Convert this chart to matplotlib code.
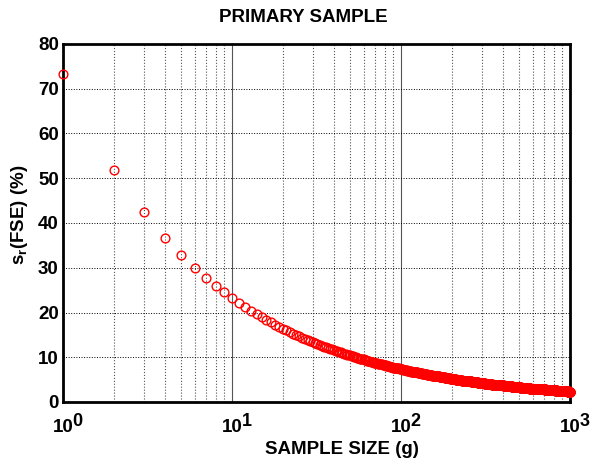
import numpy as np
import matplotlib
matplotlib.use("Agg")
import matplotlib.pyplot as plt
import matplotlib.transforms as mtransforms
from matplotlib.ticker import FixedLocator, LogLocator, NullFormatter

plt.rcParams['font.family'] = ['Liberation Sans', 'DejaVu Sans']
plt.rcParams['mathtext.fontset'] = 'custom'
plt.rcParams['mathtext.rm'] = 'Liberation Sans:bold'
plt.rcParams['mathtext.bf'] = 'Liberation Sans:bold'
plt.rcParams['mathtext.it'] = 'Liberation Sans:bold'

title = "PRIMARY SAMPLE"
x_label = "SAMPLE SIZE (g)"
y_label = r"$\mathbf{s_r}$(FSE) (%)"

# sample sizes (g): 1 .. 1000
sample_size_g = np.arange(1, 1001)

# relative standard deviation of the fundamental sampling error (%), one value per sample size
fse_pct = [
    73.4, 51.9, 42.4, 36.7, 32.8, 30.0, 27.7, 26.0, 24.5, 23.2,
    22.1, 21.2, 20.4, 19.6, 19.0, 18.4, 17.8, 17.3, 16.8, 16.4,
    16.0, 15.6, 15.3, 15.0, 14.7, 14.4, 14.1, 13.9, 13.6, 13.4,
    13.2, 13.0, 12.8, 12.6, 12.4, 12.2, 12.1, 11.9, 11.8, 11.6,
    11.5, 11.3, 11.2, 11.1, 10.9, 10.8, 10.7, 10.6, 10.5, 10.4,
    10.3, 10.2, 10.1, 10.0, 9.9, 9.8, 9.7, 9.6, 9.6, 9.5,
    9.4, 9.3, 9.2, 9.2, 9.1, 9.0, 9.0, 8.9, 8.8, 8.8,
    8.7, 8.7, 8.6, 8.5, 8.5, 8.4, 8.4, 8.3, 8.3, 8.2,
    8.2, 8.1, 8.1, 8.0, 8.0, 7.9, 7.9, 7.8, 7.8, 7.7,
    7.7, 7.7, 7.6, 7.6, 7.5, 7.5, 7.5, 7.4, 7.4, 7.3,
    7.3, 7.3, 7.2, 7.2, 7.2, 7.1, 7.1, 7.1, 7.0, 7.0,
    7.0, 6.9, 6.9, 6.9, 6.8, 6.8, 6.8, 6.8, 6.7, 6.7,
    6.7, 6.6, 6.6, 6.6, 6.6, 6.5, 6.5, 6.5, 6.5, 6.4,
    6.4, 6.4, 6.4, 6.3, 6.3, 6.3, 6.3, 6.2, 6.2, 6.2,
    6.2, 6.2, 6.1, 6.1, 6.1, 6.1, 6.1, 6.0, 6.0, 6.0,
    6.0, 6.0, 5.9, 5.9, 5.9, 5.9, 5.9, 5.8, 5.8, 5.8,
    5.8, 5.8, 5.7, 5.7, 5.7, 5.7, 5.7, 5.7, 5.6, 5.6,
    5.6, 5.6, 5.6, 5.6, 5.5, 5.5, 5.5, 5.5, 5.5, 5.5,
    5.5, 5.4, 5.4, 5.4, 5.4, 5.4, 5.4, 5.4, 5.3, 5.3,
    5.3, 5.3, 5.3, 5.3, 5.3, 5.2, 5.2, 5.2, 5.2, 5.2,
    5.2, 5.2, 5.2, 5.1, 5.1, 5.1, 5.1, 5.1, 5.1, 5.1,
    5.1, 5.0, 5.0, 5.0, 5.0, 5.0, 5.0, 5.0, 5.0, 4.9,
    4.9, 4.9, 4.9, 4.9, 4.9, 4.9, 4.9, 4.9, 4.9, 4.8,
    4.8, 4.8, 4.8, 4.8, 4.8, 4.8, 4.8, 4.8, 4.7, 4.7,
    4.7, 4.7, 4.7, 4.7, 4.7, 4.7, 4.7, 4.7, 4.7, 4.6,
    4.6, 4.6, 4.6, 4.6, 4.6, 4.6, 4.6, 4.6, 4.6, 4.6,
    4.5, 4.5, 4.5, 4.5, 4.5, 4.5, 4.5, 4.5, 4.5, 4.5,
    4.5, 4.5, 4.4, 4.4, 4.4, 4.4, 4.4, 4.4, 4.4, 4.4,
    4.4, 4.4, 4.4, 4.4, 4.3, 4.3, 4.3, 4.3, 4.3, 4.3,
    4.3, 4.3, 4.3, 4.3, 4.3, 4.3, 4.3, 4.3, 4.2, 4.2,
    4.2, 4.2, 4.2, 4.2, 4.2, 4.2, 4.2, 4.2, 4.2, 4.2,
    4.2, 4.2, 4.1, 4.1, 4.1, 4.1, 4.1, 4.1, 4.1, 4.1,
    4.1, 4.1, 4.1, 4.1, 4.1, 4.1, 4.1, 4.1, 4.0, 4.0,
    4.0, 4.0, 4.0, 4.0, 4.0, 4.0, 4.0, 4.0, 4.0, 4.0,
    4.0, 4.0, 4.0, 4.0, 4.0, 3.9, 3.9, 3.9, 3.9, 3.9,
    3.9, 3.9, 3.9, 3.9, 3.9, 3.9, 3.9, 3.9, 3.9, 3.9,
    3.9, 3.9, 3.9, 3.8, 3.8, 3.8, 3.8, 3.8, 3.8, 3.8,
    3.8, 3.8, 3.8, 3.8, 3.8, 3.8, 3.8, 3.8, 3.8, 3.8,
    3.8, 3.8, 3.8, 3.7, 3.7, 3.7, 3.7, 3.7, 3.7, 3.7,
    3.7, 3.7, 3.7, 3.7, 3.7, 3.7, 3.7, 3.7, 3.7, 3.7,
    3.7, 3.7, 3.7, 3.7, 3.6, 3.6, 3.6, 3.6, 3.6, 3.6,
    3.6, 3.6, 3.6, 3.6, 3.6, 3.6, 3.6, 3.6, 3.6, 3.6,
    3.6, 3.6, 3.6, 3.6, 3.6, 3.6, 3.6, 3.5, 3.5, 3.5,
    3.5, 3.5, 3.5, 3.5, 3.5, 3.5, 3.5, 3.5, 3.5, 3.5,
    3.5, 3.5, 3.5, 3.5, 3.5, 3.5, 3.5, 3.5, 3.5, 3.5,
    3.5, 3.5, 3.4, 3.4, 3.4, 3.4, 3.4, 3.4, 3.4, 3.4,
    3.4, 3.4, 3.4, 3.4, 3.4, 3.4, 3.4, 3.4, 3.4, 3.4,
    3.4, 3.4, 3.4, 3.4, 3.4, 3.4, 3.4, 3.4, 3.4, 3.4,
    3.3, 3.3, 3.3, 3.3, 3.3, 3.3, 3.3, 3.3, 3.3, 3.3,
    3.3, 3.3, 3.3, 3.3, 3.3, 3.3, 3.3, 3.3, 3.3, 3.3,
    3.3, 3.3, 3.3, 3.3, 3.3, 3.3, 3.3, 3.3, 3.3, 3.3,
    3.2, 3.2, 3.2, 3.2, 3.2, 3.2, 3.2, 3.2, 3.2, 3.2,
    3.2, 3.2, 3.2, 3.2, 3.2, 3.2, 3.2, 3.2, 3.2, 3.2,
    3.2, 3.2, 3.2, 3.2, 3.2, 3.2, 3.2, 3.2, 3.2, 3.2,
    3.2, 3.2, 3.1, 3.1, 3.1, 3.1, 3.1, 3.1, 3.1, 3.1,
    3.1, 3.1, 3.1, 3.1, 3.1, 3.1, 3.1, 3.1, 3.1, 3.1,
    3.1, 3.1, 3.1, 3.1, 3.1, 3.1, 3.1, 3.1, 3.1, 3.1,
    3.1, 3.1, 3.1, 3.1, 3.1, 3.1, 3.1, 3.1, 3.1, 3.0,
    3.0, 3.0, 3.0, 3.0, 3.0, 3.0, 3.0, 3.0, 3.0, 3.0,
    3.0, 3.0, 3.0, 3.0, 3.0, 3.0, 3.0, 3.0, 3.0, 3.0,
    3.0, 3.0, 3.0, 3.0, 3.0, 3.0, 3.0, 3.0, 3.0, 3.0,
    3.0, 3.0, 3.0, 3.0, 3.0, 3.0, 3.0, 3.0, 3.0, 2.9,
    2.9, 2.9, 2.9, 2.9, 2.9, 2.9, 2.9, 2.9, 2.9, 2.9,
    2.9, 2.9, 2.9, 2.9, 2.9, 2.9, 2.9, 2.9, 2.9, 2.9,
    2.9, 2.9, 2.9, 2.9, 2.9, 2.9, 2.9, 2.9, 2.9, 2.9,
    2.9, 2.9, 2.9, 2.9, 2.9, 2.9, 2.9, 2.9, 2.9, 2.9,
    2.9, 2.9, 2.9, 2.8, 2.8, 2.8, 2.8, 2.8, 2.8, 2.8,
    2.8, 2.8, 2.8, 2.8, 2.8, 2.8, 2.8, 2.8, 2.8, 2.8,
    2.8, 2.8, 2.8, 2.8, 2.8, 2.8, 2.8, 2.8, 2.8, 2.8,
    2.8, 2.8, 2.8, 2.8, 2.8, 2.8, 2.8, 2.8, 2.8, 2.8,
    2.8, 2.8, 2.8, 2.8, 2.8, 2.8, 2.8, 2.8, 2.8, 2.8,
    2.8, 2.8, 2.7, 2.7, 2.7, 2.7, 2.7, 2.7, 2.7, 2.7,
    2.7, 2.7, 2.7, 2.7, 2.7, 2.7, 2.7, 2.7, 2.7, 2.7,
    2.7, 2.7, 2.7, 2.7, 2.7, 2.7, 2.7, 2.7, 2.7, 2.7,
    2.7, 2.7, 2.7, 2.7, 2.7, 2.7, 2.7, 2.7, 2.7, 2.7,
    2.7, 2.7, 2.7, 2.7, 2.7, 2.7, 2.7, 2.7, 2.7, 2.7,
    2.7, 2.7, 2.7, 2.7, 2.7, 2.7, 2.7, 2.6, 2.6, 2.6,
    2.6, 2.6, 2.6, 2.6, 2.6, 2.6, 2.6, 2.6, 2.6, 2.6,
    2.6, 2.6, 2.6, 2.6, 2.6, 2.6, 2.6, 2.6, 2.6, 2.6,
    2.6, 2.6, 2.6, 2.6, 2.6, 2.6, 2.6, 2.6, 2.6, 2.6,
    2.6, 2.6, 2.6, 2.6, 2.6, 2.6, 2.6, 2.6, 2.6, 2.6,
    2.6, 2.6, 2.6, 2.6, 2.6, 2.6, 2.6, 2.6, 2.6, 2.6,
    2.6, 2.6, 2.6, 2.6, 2.6, 2.6, 2.6, 2.6, 2.5, 2.5,
    2.5, 2.5, 2.5, 2.5, 2.5, 2.5, 2.5, 2.5, 2.5, 2.5,
    2.5, 2.5, 2.5, 2.5, 2.5, 2.5, 2.5, 2.5, 2.5, 2.5,
    2.5, 2.5, 2.5, 2.5, 2.5, 2.5, 2.5, 2.5, 2.5, 2.5,
    2.5, 2.5, 2.5, 2.5, 2.5, 2.5, 2.5, 2.5, 2.5, 2.5,
    2.5, 2.5, 2.5, 2.5, 2.5, 2.5, 2.5, 2.5, 2.5, 2.5,
    2.5, 2.5, 2.5, 2.5, 2.5, 2.5, 2.5, 2.5, 2.5, 2.5,
    2.5, 2.5, 2.5, 2.5, 2.5, 2.5, 2.5, 2.4, 2.4, 2.4,
    2.4, 2.4, 2.4, 2.4, 2.4, 2.4, 2.4, 2.4, 2.4, 2.4,
    2.4, 2.4, 2.4, 2.4, 2.4, 2.4, 2.4, 2.4, 2.4, 2.4,
    2.4, 2.4, 2.4, 2.4, 2.4, 2.4, 2.4, 2.4, 2.4, 2.4,
    2.4, 2.4, 2.4, 2.4, 2.4, 2.4, 2.4, 2.4, 2.4, 2.4,
    2.4, 2.4, 2.4, 2.4, 2.4, 2.4, 2.4, 2.4, 2.4, 2.4,
    2.4, 2.4, 2.4, 2.4, 2.4, 2.4, 2.4, 2.4, 2.4, 2.4,
    2.4, 2.4, 2.4, 2.4, 2.4, 2.4, 2.4, 2.4, 2.4, 2.4,
    2.4, 2.4, 2.4, 2.4, 2.4, 2.3, 2.3, 2.3, 2.3, 2.3,
    2.3, 2.3, 2.3, 2.3, 2.3, 2.3, 2.3, 2.3, 2.3, 2.3,
    2.3, 2.3, 2.3, 2.3, 2.3, 2.3, 2.3, 2.3, 2.3, 2.3,
]

y_ticks = [0, 10, 20, 30, 40, 50, 60, 70, 80]
x_ticks = [1, 10, 100, 1000]
x_tick_base = "10"
x_tick_exponents = ["0", "1", "2", "3"]

assert len(fse_pct) == len(sample_size_g), len(fse_pct)

W, H = 594, 467
fig = plt.figure(figsize=(W / 100, H / 100), dpi=100)
ax = fig.add_axes([63 / W, 1 - 402 / H, (570 - 63) / W, (402 - 44) / H])

ax.plot(sample_size_g, fse_pct, linestyle='none', marker='o', markersize=6.3,
        markerfacecolor='none', markeredgecolor='red', markeredgewidth=1.0,
        clip_on=False, zorder=5)

ax.set_xscale('log')
ax.set_xlim(1, 1000)
ax.set_ylim(0, 80)
ax.set_yticks(y_ticks)
ax.set_yticklabels([str(t) for t in y_ticks], fontsize=13.5, fontweight='bold')
# y tick labels sit slightly below their grid lines in the reference
shift = mtransforms.ScaledTranslation(0, -5 / 100, fig.dpi_scale_trans)
for lab in ax.get_yticklabels():
    lab.set_transform(lab.get_transform() + shift)

ax.xaxis.set_major_locator(FixedLocator(x_ticks))
ax.xaxis.set_major_formatter(NullFormatter())
ax.xaxis.set_minor_locator(LogLocator(base=10, subs=np.arange(2, 10)))
ax.xaxis.set_minor_formatter(NullFormatter())

# x tick labels: "10" with a large raised exponent
for xt, ex in zip(x_ticks, x_tick_exponents):
    ax.annotate(x_tick_base, xy=(xt, 0), xycoords=('data', 'axes fraction'),
                xytext=(7.4, -21.4), textcoords='offset points',
                ha='right', va='baseline', fontsize=13.5, fontweight='bold',
                annotation_clip=False)
    ax.annotate(ex, xy=(xt, 0), xycoords=('data', 'axes fraction'),
                xytext=(7.0, -17.5), textcoords='offset points',
                ha='left', va='baseline', fontsize=13, fontweight='bold',
                annotation_clip=False)

ax.grid(True, which='major', axis='y', color='black', linestyle=':', linewidth=0.7)
ax.grid(True, which='major', axis='x', color='#555555', linestyle='-', linewidth=0.8)
ax.grid(True, which='minor', axis='x', color='#555555', linestyle=':', linewidth=0.8)
ax.tick_params(axis='both', which='both', length=0)
ax.tick_params(axis='y', pad=3)

for s in ax.spines.values():
    s.set_linewidth(2)
    s.set_zorder(4)

fig.text(303.5 / W, 1 - 17.5 / H, title, fontsize=13.5, fontweight='bold',
         ha='center', va='center')
fig.text(341.5 / W, 1 - 449.5 / H, x_label, fontsize=13.5, fontweight='bold',
         ha='center', va='center')
fig.text(20 / W, 1 - 215 / H, y_label, fontsize=13.5, fontweight='bold',
         ha='center', va='center', rotation=90)

fig.savefig("out.png", dpi=100)
